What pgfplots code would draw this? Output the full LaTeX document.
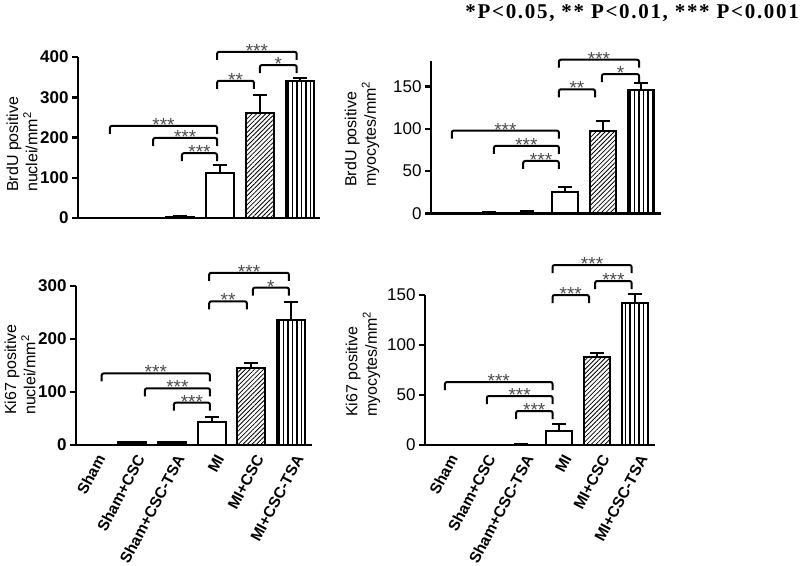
\documentclass[border=0pt]{standalone}
\usepackage{fontspec}
\setmainfont{Liberation Sans}
\newfontfamily\timesfont[LetterSpace=8]{Liberation Serif}
\usepackage{pgfplots}
\pgfplotsset{compat=1.18}
\usetikzlibrary{patterns.meta,calc}
\newcommand{\fs}[1]{\fontsize{#1}{#1}\selectfont}
\pgfplotsset{
  panel/.style={scale only axis, clip=false, axis lines=left,
    axis line style={line width=2.5pt,-}, tick align=outside, major tick length=6pt,
    ytick style={line width=2.5pt, black}, xtick style={draw=none},
    /pgf/number format/assume math mode=true, anchor=south west, ymin=0},
  xlab/.style={xtick={0,...,5}, xticklabels={Sham,Sham+CSC,Sham+CSC-TSA,MI,MI+CSC,MI+CSC-TSA},
    xticklabel style={xshift=10pt, yshift=-2pt, rotate=62, anchor=east, font=\bfseries\fs{15.5}}},
  barbase/.style={ybar, bar width=#1, bar shift=0pt, draw=black, line width=2pt,
    error bars/y dir=plus, error bars/y explicit,
    error bars/error bar style={line width=2pt, solid},
    error bars/error mark options={rotate=90, mark size=7pt, line width=2pt}},
  bk/.style={barbase=#1, fill=black},
  wh/.style={barbase=#1, fill=white},
  hat/.style={barbase=#1, pattern={Lines[angle=45,distance=3.2pt,line width=0.8pt]}},
  vl/.style={barbase=#1, pattern={Lines[angle=90,distance=4.5pt,line width=1.1pt]}},
}
\newcommand{\brk}[4]{%
  \draw[line width=2pt, rounded corners=2pt] ([yshift=-8pt]axis cs:#1,#3) -- (axis cs:#1,#3) -- (axis cs:#2,#3) -- ([yshift=-8pt]axis cs:#2,#3);
  \node[anchor=base, yshift=-5.5pt, font=\fs{19}, text=black!70, inner sep=0pt] at ($(axis cs:#1,#3)!0.5!(axis cs:#2,#3)$) {#4};
}
\begin{document}
\begin{tikzpicture}
\useasboundingbox (0,0) rectangle (800pt,-565pt);
\node[anchor=east, font=\timesfont\bfseries\fs{21}, inner sep=0pt] at (799pt,-13pt) {*P<0.05, ** P<0.01, *** P<0.001};
% y labels
\node[rotate=90, anchor=west, align=left, font=\fs{16}, inner sep=0pt] at (22pt,-192pt) {BrdU positive\\[1pt]nuclei/mm\textsuperscript{2}};
\node[rotate=90, anchor=west, align=left, font=\fs{16}, inner sep=0pt] at (362pt,-187pt) {BrdU positive\\[1pt]myocytes/mm\textsuperscript{2}};
\node[rotate=90, anchor=west, align=left, font=\fs{16}, inner sep=0pt] at (20pt,-415pt) {Ki67 positive\\[1pt]nuclei/mm\textsuperscript{2}};
\node[rotate=90, anchor=west, align=left, font=\fs{16}, inner sep=0pt] at (363pt,-417pt) {Ki67 positive\\[1pt]myocytes/mm\textsuperscript{2}};

% Panel A
\begin{axis}[panel, at={(78pt,-218pt)}, width=242pt, height=161pt,
  xmin=-0.5375, xmax=5.5125, ymax=400, ytick={0,100,200,300,400}, xtick=\empty,
  yticklabel style={font=\bfseries\fs{17}}]
\addplot[bk=28pt] coordinates {(0,0) +- (0,0) (1,0.5) +- (0,0) (2,3) +- (0,1)};
\addplot[wh=28pt] coordinates {(3,112) +- (0,19)};
\addplot[hat=28pt] coordinates {(4,260) +- (0,45)};
\addplot[vl=28pt] coordinates {(5,340) +- (0,9)};
\brk{0.26}{2.94}{229}{***}
\brk{1.34}{2.94}{199}{***}
\brk{2.06}{2.94}{161}{***}
\brk{2.94}{3.86}{341}{**}
\brk{4.01}{4.93}{380}{*}
\brk{2.94}{4.93}{413}{***}
\end{axis}

% Panel B
\begin{axis}[panel, at={(431pt,-213.3pt)}, width=230pt, height=151.9pt,
  xmin=-0.526, xmax=5.526, ymax=180, ytick={0,50,100,150}, xtick=\empty,
  yticklabel style={font=\fs{17}}]
\addplot[bk=26pt] coordinates {(0,0) +- (0,0) (1,0.8) +- (0,0.3) (2,0.8) +- (0,1.5)};
\addplot[wh=26pt] coordinates {(3,25.6) +- (0,5.9)};
\addplot[hat=26pt] coordinates {(4,97.5) +- (0,11.5)};
\addplot[vl=26pt] coordinates {(5,146) +- (0,8)};
\brk{0.02}{2.84}{98}{***}
\brk{1.13}{2.84}{80}{***}
\brk{1.9}{2.84}{62}{***}
\brk{2.84}{3.79}{147}{**}
\brk{3.97}{4.95}{165}{*}
\brk{2.84}{4.95}{182}{***}
\end{axis}

% Panel C
\begin{axis}[panel, xlab, at={(76pt,-445pt)}, width=236pt, height=159pt,
  xmin=-0.416, xmax=5.53, ymax=300, ytick={0,100,200,300},
  yticklabel style={font=\bfseries\fs{17}}]
\addplot[bk=28pt] coordinates {(0,0) +- (0,0) (1,5) +- (0,1.5) (2,5) +- (0,1.5)};
\addplot[wh=28pt] coordinates {(3,43) +- (0,10)};
\addplot[hat=28pt] coordinates {(4,146) +- (0,8)};
\addplot[vl=28pt] coordinates {(5,235) +- (0,35)};
\brk{0.23}{2.96}{135}{***}
\brk{1.32}{2.96}{107}{***}
\brk{2.05}{2.96}{80}{***}
\brk{2.94}{3.89}{271}{**}
\brk{4.04}{4.95}{297}{*}
\brk{2.94}{4.95}{325}{***}
\end{axis}

% Panel D
\begin{axis}[panel, xlab, at={(425pt,-445pt)}, width=230pt, height=150pt,
  xmin=-0.526, xmax=5.526, ymax=150, ytick={0,50,100,150},
  yticklabel style={font=\fs{17}}]
\addplot[bk=26pt] coordinates {(0,0) +- (0,0) (1,0.5) +- (0,0) (2,0.5) +- (0,0.5)};
\addplot[wh=26pt] coordinates {(3,14) +- (0,7)};
\addplot[hat=26pt] coordinates {(4,87.7) +- (0,4.3)};
\addplot[vl=26pt] coordinates {(5,141.7) +- (0,9)};
\brk{0.0}{2.83}{63}{***}
\brk{1.1}{2.83}{49}{***}
\brk{1.87}{2.83}{34}{***}
\brk{2.83}{3.79}{150}{***}
\brk{3.95}{4.91}{164}{***}
\brk{2.83}{4.91}{180}{***}
\end{axis}
\end{tikzpicture}
\end{document}
